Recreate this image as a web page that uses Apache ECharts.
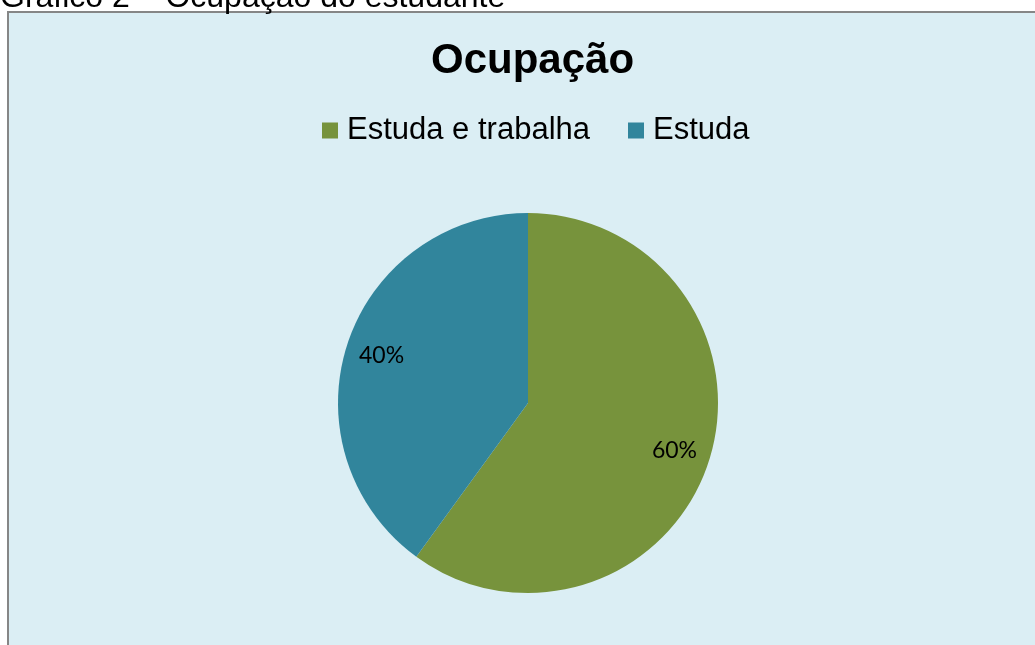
<!DOCTYPE html>
<html>
<head>
<meta charset="utf-8">
<script src="https://cdn.jsdelivr.net/npm/echarts@6/dist/echarts.min.js"></script>
<style>
  html, body { margin: 0; padding: 0; background: #fff; }
  #chart { width: 1035px; height: 645px; }
</style>
</head>
<body>
<div id="chart"></div>
<script>
  // dados do gráfico
  const categorias = ['Estuda e trabalha', 'Estuda'];
  const valores = [60, 40];
  const cores = ['#77933C', '#31859C'];

  const dados = categorias.map((nome, i) => ({ name: nome, value: valores[i] }));

  const chart = echarts.init(document.getElementById('chart'));
  chart.setOption({
    backgroundColor: '#ffffff',
    animation: false,
    graphic: [
      {
        type: 'rect',
        z: -10,
        shape: { x: 8, y: 12, width: 1040, height: 650 },
        style: { fill: '#DBEEF4', stroke: '#868686', lineWidth: 2 }
      },
      {
        type: 'text',
        left: 0,
        top: -18,
        style: {
          text: 'Gráfico 2 – Ocupação do estudante',
          fill: '#000',
          font: '32px "Liberation Sans", Arial, sans-serif'
        }
      }
    ],
    title: {
      text: 'Ocupação',
      left: 426,
      top: 35,
      textStyle: {
        fontFamily: '"Liberation Sans", Arial, sans-serif',
        fontSize: 42,
        fontWeight: 'bold',
        color: '#000'
      }
    },
    legend: {
      data: categorias,
      left: 317,
      top: 110,
      itemWidth: 16,
      itemHeight: 16,
      itemGap: 38,
      icon: 'rect',
      textStyle: {
        fontFamily: '"Liberation Sans", Arial, sans-serif',
        fontSize: 31,
        color: '#000',
        padding: [0, 0, 0, 4]
      }
    },
    color: cores,
    series: [
      {
        type: 'pie',
        center: [528, 403],
        radius: [0, 190],
        startAngle: 90,
        clockwise: true,
        label: { show: false },
        labelLine: { show: false },
        emphasis: { disabled: true },
        itemStyle: { borderWidth: 0 },
        data: dados
      },
      {
        // série transparente só para posicionar os rótulos de %
        type: 'pie',
        center: [528, 403],
        radius: [0, 302],
        startAngle: 90,
        clockwise: true,
        silent: true,
        z: 5,
        emphasis: { disabled: true },
        itemStyle: { color: 'transparent', borderWidth: 0 },
        label: {
          show: true,
          position: 'inside',
          formatter: '{d}%',
          color: '#000',
          fontFamily: 'Lato, "Noto Sans", sans-serif',
          fontSize: 23
        },
        labelLine: { show: false },
        data: dados
      }
    ]
  });
</script>
</body>
</html>
